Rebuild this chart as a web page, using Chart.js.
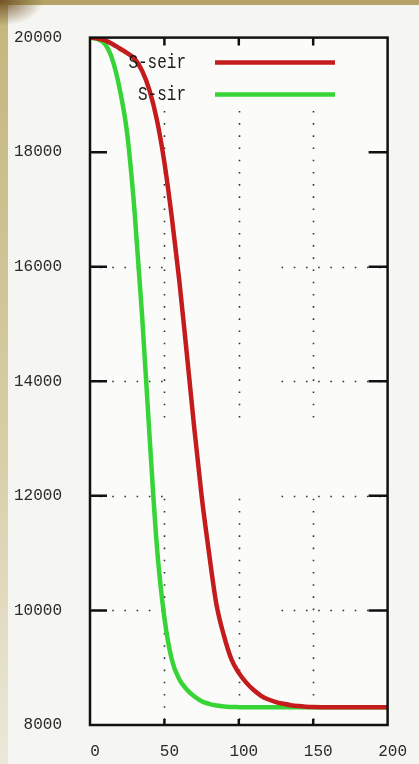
<!DOCTYPE html>
<html>
<head>
<meta charset="utf-8">
<script src="https://cdn.jsdelivr.net/npm/chart.js@4/dist/chart.umd.min.js"></script>
<style>
  html, body { margin: 0; padding: 0; }
  body {
    width: 419px; height: 764px; overflow: hidden;
    background:
      radial-gradient(ellipse 44px 26px at 0 0, rgba(110,80,35,0.95), rgba(110,80,35,0)),
      linear-gradient(#b4a266, #b4a266) top left / 100% 5px no-repeat,
      linear-gradient(to bottom, #c3b57c, #d8cfa8 60%, #ece8da) top left / 8px 100% no-repeat,
      #f5f5f1;
  }
  canvas { display: block; }
</style>
</head>
<body>
<canvas id="c" width="419" height="764"></canvas>
<script>
// ---- data ----
const time = [0,5,10,15,20,25,30,35,40,45,50,55,60,65,70,75,80,85,90,95,100,
              105,110,115,120,125,130,135,140,145,150,155,160,165,170,175,180,185,190,195,200];
const sSeir = [20000,19985,19950,19890,19810,19730,19630,19420,19080,18560,17820,
               16860,15760,14500,13200,12000,11000,10100,9560,9150,8910,
               8740,8610,8510,8445,8400,8370,8345,8330,8320,8314,8311,
               8310,8310,8310,8310,8310,8310,8310,8310,8310];
const sSir = [20000,19975,19890,19620,19100,18320,16950,15150,13050,11100,9870,
              9140,8800,8620,8500,8415,8370,8340,8322,8315,8312,
              8310,8310,8310,8310,8310,8310,8310,8310,8310,8310,
              8310,8310,8310,8310,8310,8310,8310,8310,8310,8310];
const seriesNames = ["S-seir", "S-sir"];
const xTickValues = [0, 50, 100, 150, 200];
const yTickValues = [8000, 10000, 12000, 14000, 16000, 18000, 20000];
// grid rows that appear dotted in the reference, and the visible spans
const gridRows = [10000, 12000, 14000, 16000];
const gridCols = [50, 100, 150];
const rowSpans = [[0, 49], [122, 200]];
const colSpans = [[18720, 13360], [11950, 8000]];

const RED = '#c41c1c';
const GREEN = '#36d436';
const FONT = "'Liberation Mono', 'DejaVu Sans Mono', monospace";

const pts = (ys) => time.map((t, i) => ({ x: t, y: ys[i] }));

const framePlugin = {
  id: 'frame',
  beforeDraw(chart) {
    const { ctx, chartArea: a } = chart;
    ctx.save();
    ctx.fillStyle = '#fbfbfa';
    ctx.fillRect(a.left, a.top, a.right - a.left, a.bottom - a.top);
    ctx.restore();
  },
  beforeDatasetsDraw(chart) {
    const { ctx, scales: { x, y } } = chart;
    ctx.save();
    ctx.strokeStyle = '#333';
    ctx.lineWidth = 1.6;
    ctx.setLineDash([1.6, 10.6]);
    gridRows.forEach(v => {
      const py = Math.round(y.getPixelForValue(v)) + 0.5;
      rowSpans.forEach(([a0, a1]) => {
        ctx.beginPath();
        ctx.moveTo(x.getPixelForValue(a0) + 10, py);
        ctx.lineTo(x.getPixelForValue(a1), py);
        ctx.stroke();
      });
    });
    gridCols.forEach(v => {
      const px = Math.round(x.getPixelForValue(v)) + 0.5;
      colSpans.forEach(([b0, b1]) => {
        ctx.beginPath();
        ctx.moveTo(px, y.getPixelForValue(b0));
        ctx.lineTo(px, y.getPixelForValue(b1));
        ctx.stroke();
      });
    });
    ctx.restore();
  },
  afterDatasetsDraw(chart) {
    const { ctx, chartArea: a, scales: { x, y } } = chart;
    ctx.save();
    ctx.strokeStyle = '#111';
    ctx.lineWidth = 2.5;
    ctx.setLineDash([]);
    ctx.strokeRect(a.left, a.top, a.right - a.left, a.bottom - a.top);
    yTickValues.slice(1, -1).forEach(v => {
      const py = y.getPixelForValue(v);
      ctx.beginPath();
      ctx.moveTo(a.left, py); ctx.lineTo(a.left + 17, py);
      ctx.moveTo(a.right, py); ctx.lineTo(a.right - 19, py);
      ctx.stroke();
    });
    xTickValues.slice(1, -1).forEach(v => {
      const px = x.getPixelForValue(v);
      ctx.beginPath();
      ctx.moveTo(px, a.top); ctx.lineTo(px, a.top + 8);
      ctx.moveTo(px, a.bottom); ctx.lineTo(px, a.bottom - 6);
      ctx.stroke();
    });
    ctx.restore();
  },
  afterDraw(chart) {
    const { ctx, chartArea: a } = chart;
    const colors = [RED, GREEN];
    ctx.save();
    seriesNames.forEach((name, i) => {
      const cy = a.top + 25 + i * 32;
      ctx.save();
      ctx.translate(a.left + 96, cy);
      ctx.scale(1, 1.25);
      ctx.font = '16px ' + FONT;
      ctx.fillStyle = '#1a1a1a';
      ctx.textAlign = 'right';
      ctx.textBaseline = 'middle';
      ctx.fillText(name, 0, 0);
      ctx.restore();
      ctx.strokeStyle = colors[i];
      ctx.lineWidth = 4.5;
      ctx.beginPath();
      ctx.moveTo(a.left + 125, cy);
      ctx.lineTo(a.left + 245, cy);
      ctx.stroke();
    });
    ctx.restore();
  }
};

new Chart(document.getElementById('c'), {
  type: 'line',
  data: {
    datasets: [
      { label: seriesNames[0], data: pts(sSeir), borderColor: RED, borderWidth: 4.5,
        pointRadius: 0, cubicInterpolationMode: 'monotone', fill: false },
      { label: seriesNames[1], data: pts(sSir), borderColor: GREEN, borderWidth: 4.5,
        pointRadius: 0, cubicInterpolationMode: 'monotone', fill: false }
    ]
  },
  options: {
    responsive: false,
    devicePixelRatio: 1,
    animation: false,
    layout: { padding: { top: 20, right: 31, left: 0, bottom: 0 } },
    plugins: { legend: { display: false }, tooltip: { enabled: false } },
    scales: {
      x: {
        type: 'linear', min: 0, max: 200,
        afterBuildTicks: s => { s.ticks = xTickValues.map(v => ({ value: v })); },
        ticks: { font: { family: FONT, size: 16 }, color: '#2a2a2a', padding: 17,
                 labelOffset: 5, maxRotation: 0 },
        grid: { display: false, drawTicks: false },
        border: { display: false },
        afterFit: s => { s.height = 39; }
      },
      y: {
        type: 'linear', min: 8000, max: 20000,
        afterBuildTicks: s => { s.ticks = yTickValues.map(v => ({ value: v })); },
        ticks: { font: { family: FONT, size: 16 }, color: '#2a2a2a', padding: 28,
                 callback: v => String(v) },
        grid: { display: false, drawTicks: false },
        border: { display: false },
        afterFit: s => { s.width = 90; }
      }
    }
  },
  plugins: [framePlugin]
});
</script>
</body>
</html>
